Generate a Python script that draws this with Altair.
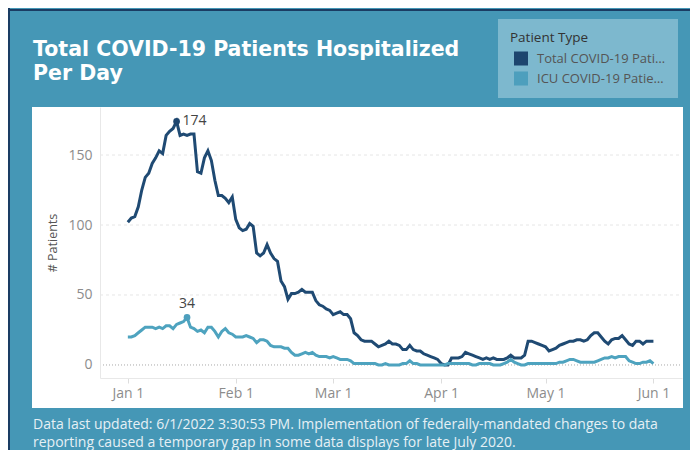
import altair as alt
import pandas as pd

# ---- data ----
series_names = ["Total COVID-19 Patients", "ICU COVID-19 Patients"]
series_colors = ["#1f4a73", "#4ea3bf"]
legend_colors = ["#1d456e", "#4d9fbd"]

total = [102, 105, 106, 113, 125, 134, 137, 144, 148, 153, 151, 164, 167, 169, 174, 164, 165, 164, 165, 165,
         138, 137, 148, 153, 146, 132, 121, 121, 119, 116, 120, 104, 98, 96, 97, 101, 99, 80, 78, 80,
         86, 80, 76, 74, 60, 56, 47, 51, 51, 52, 54, 52, 52, 52, 46, 43, 42, 40, 39, 36,
         37, 38, 36, 36, 33, 23, 21, 18, 17, 17, 17, 15, 13, 14, 15, 17, 15, 15, 14, 11,
         11, 14, 11, 10, 10, 8, 7, 6, 5, 4, 1, 0, 0, 5, 5, 5, 6, 9, 8, 7,
         6, 5, 4, 5, 4, 5, 4, 4, 4, 5, 7, 5, 5, 5, 7, 17, 17, 16, 15, 14,
         13, 10, 11, 12, 14, 15, 16, 17, 17, 18, 18, 17, 18, 21, 23, 23, 20, 17, 15, 18,
         19, 19, 21, 18, 15, 14, 17, 17, 15, 17, 17, 17]

icu = [20, 20, 21, 23, 25, 27, 27, 27, 26, 27, 26, 28, 28, 26, 29, 30, 31, 34, 27, 26,
       24, 25, 23, 27, 27, 24, 20, 24, 26, 23, 22, 20, 20, 20, 21, 20, 19, 16, 18, 18,
       17, 14, 13, 13, 13, 12, 12, 9, 7, 7, 8, 9, 8, 9, 7, 6, 6, 6, 5, 6,
       5, 4, 4, 4, 3, 1, 1, 1, 1, 1, 1, 1, 0, 0, 1, 0, 0, 0, 0, 1,
       1, 3, 1, 1, 0, 0, 0, 0, 0, 0, 0, 0, 1, 1, 1, 1, 1, 1, 1, 0,
       0, 1, 1, 1, 1, 0, 0, 0, 1, 2, 4, 2, 1, 0, 0, 1, 1, 1, 1, 1,
       1, 1, 1, 1, 2, 2, 3, 4, 4, 3, 2, 2, 2, 2, 2, 3, 4, 5, 5, 6,
       5, 6, 6, 6, 3, 2, 1, 1, 2, 2, 3, 1]

dates = pd.date_range("2022-01-01", periods=len(total), freq="D").strftime("%Y-%m-%d").tolist()
y_ticks = [0, 50, 100, 150]
grid_values = [50, 100, 150]
month_ticks = [1, 2, 3, 4, 5, 6]

title_lines = ["Total COVID-19 Patients Hospitalized", "Per Day"]
footer_lines = [
    "Data last updated: 6/1/2022 3:30:53 PM. Implementation of federally-mandated changes to data",
    "reporting caused a temporary gap in some data displays for late July 2020.",
]

# ---- tables ----
df = pd.concat([
    pd.DataFrame({"date": dates, "value": total, "series": series_names[0]}),
    pd.DataFrame({"date": dates, "value": icu, "series": series_names[1]}),
], ignore_index=True)

peaks = df.loc[df.groupby("series")["value"].idxmax()].reset_index(drop=True)
peaks["label"] = peaks["value"].astype(str)
peaks["Patient Type"] = peaks["series"]
grid_df = pd.DataFrame({"value": grid_values})
zero_df = pd.DataFrame({"value": [0]})
one = pd.DataFrame({"a": [0]})

CW, CH = 682, 442          # whole chart
PL, PT = 92, 99            # plot origin inside the chart
W, H = 582, 271            # plot area
FONT = "Open Sans"
BG = "#4597b6"

x_scale = alt.Scale(
    type="utc",
    domain=[alt.DateTime(year=2021, month=12, date=24, hours=0, utc=True),
            alt.DateTime(year=2022, month=6, date=9, hours=5, utc=True)],
)
y_scale = alt.Scale(domain=[-9.3, 184.3], nice=False, zero=False)

x_axis = alt.Axis(
    values=[alt.DateTime(year=2022, month=m, date=1, utc=True) for m in month_ticks],
    format="%b %-d", title=None, grid=False, labelFontSize=14, labelColor="#8c8c8c",
    labelFont=FONT, tickColor="#dddddd", tickSize=5, labelPadding=3,
    domainColor="#e8e8e8", zindex=1,
)
y_axis = alt.Axis(
    values=y_ticks, title="# Patients", grid=False, ticks=False, labelPadding=8,
    labelFontSize=14, labelColor="#8c8c8c", labelFont=FONT, domainColor="#e8e8e8",
    titleFontSize=12.5, titleColor="#555555", titleFontWeight="normal", titleFont=FONT,
    titleX=-48, titleY=H / 2, titleAngle=-90, titleAlign="center", titleBaseline="middle",
    zindex=1,
)


def Y():
    return alt.Y("value:Q", scale=y_scale, axis=y_axis)


def X():
    return alt.X("date:T", scale=x_scale, axis=x_axis)


panel = alt.Chart(one).mark_rect(color="white").encode(
    x=alt.value(-68), x2=alt.value(583), y=alt.value(0), y2=alt.value(301)
)

grid = alt.Chart(grid_df).mark_rule(color="#e6e6e6", strokeDash=[3, 3], strokeWidth=1).encode(
    y=Y(), x=alt.value(0), x2=alt.value(W)
)
zero = alt.Chart(zero_df).mark_rule(color="#a8a8a8", strokeDash=[1, 2], strokeWidth=1).encode(
    y=Y(), x=alt.value(0), x2=alt.value(W)
)

# stroke scale listed in reverse order so its domain differs from the legend's fill scale
lines = alt.Chart(df).mark_line(strokeWidth=3, interpolate="linear").encode(
    x=X(),
    y=Y(),
    stroke=alt.Stroke(
        "series:N",
        scale=alt.Scale(domain=series_names[::-1], range=series_colors[::-1]),
        legend=None,
    ),
    detail="series:N",
)

points = alt.Chart(peaks).mark_circle(size=45, opacity=1).encode(
    x=X(),
    y=Y(),
    fill=alt.Fill(
        "Patient Type:N",
        scale=alt.Scale(domain=series_names, range=legend_colors),
        legend=alt.Legend(
            title="Patient Type", orient="none", legendX=398, legendY=-88,
            fillColor="#7db8ce", padding=12, symbolType="square", symbolSize=196,
            symbolStrokeWidth=0, symbolOffset=4, labelOffset=9, labelLimit=134,
            labelFontSize=13, labelColor="#555555", labelFont=FONT,
            titleFontSize=13.5, titleColor="#333333", titleFontWeight="normal", titleFont=FONT,
            titlePadding=7, rowPadding=6, symbolOpacity=1,
        ),
    ),
)

label_total = alt.Chart(peaks[peaks["series"] == series_names[0]]).mark_text(
    align="left", baseline="middle", dx=6, dy=0, fontSize=14, color="#444444", font=FONT
).encode(x=X(), y=Y(), text="label:N")

label_icu = alt.Chart(peaks[peaks["series"] == series_names[1]]).mark_text(
    align="center", baseline="middle", dy=-13, fontSize=14, color="#444444", font=FONT
).encode(x=X(), y=Y(), text="label:N")

title_1 = alt.Chart(one).mark_text(
    align="left", baseline="alphabetic", fontSize=20.5, fontWeight="bold", color="white",
    font="DejaVu Sans",
).encode(x=alt.value(-67), y=alt.value(-51), text=alt.value(title_lines[0]))
title_2 = alt.Chart(one).mark_text(
    align="left", baseline="alphabetic", fontSize=20.5, fontWeight="bold", color="white",
    font="DejaVu Sans",
).encode(x=alt.value(-67), y=alt.value(-27), text=alt.value(title_lines[1]))

footer_1 = alt.Chart(one).mark_text(
    align="left", baseline="alphabetic", fontSize=14, color="#e6f0f5", font=FONT,
).encode(x=alt.value(-67), y=alt.value(322), text=alt.value(footer_lines[0]))
footer_2 = alt.Chart(one).mark_text(
    align="left", baseline="alphabetic", fontSize=14, color="#e6f0f5", font=FONT,
).encode(x=alt.value(-67), y=alt.value(340), text=alt.value(footer_lines[1]))

border_top = alt.Chart(one).mark_rule(color="#1a3c63", strokeWidth=2).encode(
    x=alt.value(-PL), x2=alt.value(CW - PL), y=alt.value(-PT + 2)
)
border_left = alt.Chart(one).mark_rule(color="#1a3c63", strokeWidth=2).encode(
    x=alt.value(-PL + 1), y=alt.value(-PT), y2=alt.value(CH - PT)
)

chart = alt.layer(
    panel, grid, zero, lines, points, label_total, label_icu,
    title_1, title_2, footer_1, footer_2, border_top, border_left,
).properties(
    width=W, height=H,
    autosize=alt.AutoSizeParams(type="none"),
    padding={"left": PL, "top": PT, "right": CW - PL - W, "bottom": CH - PT - H},
).configure(
    font=FONT, background=BG
).configure_view(strokeWidth=0)

chart.save("out.html", embed_options={"renderer": "svg", "actions": False})
